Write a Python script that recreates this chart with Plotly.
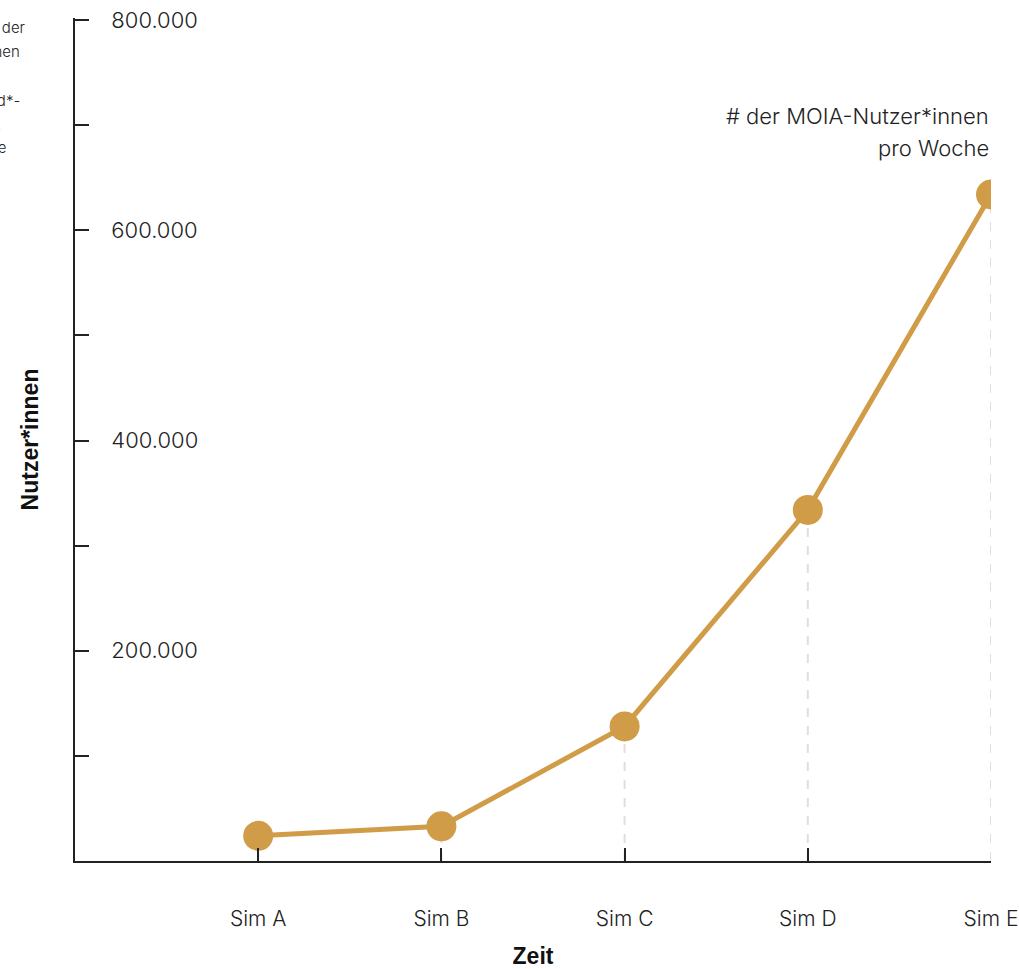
import plotly.graph_objects as go

# Weekly MOIA users per simulation run
categories = ["Sim A", "Sim B", "Sim C", "Sim D", "Sim E"]
users = [24000, 33000, 128000, 334000, 634000]

y_tick_values = [0, 100000, 200000, 300000, 400000, 500000, 600000, 700000, 800000]
y_tick_labels = ["", "", "200.000", "", "400.000", "", "600.000", "", "800.000"]

# side note lines, running off the left edge of the page
note_lines = ["Anzahl der", "Nutzer*innen", "Kund*-", ".", "Woche"]

GOLD = "#D09C48"
INK = "#222222"
DROP = "#E3DFD8"
FONT = "Inter"

fig = go.Figure()

# dashed drop lines from each point to the baseline
for i, v in enumerate(users):
    fig.add_trace(go.Scatter(
        x=[i, i], y=[0, v], mode="lines",
        line=dict(color=DROP, width=2, dash="dash"),
        hoverinfo="skip", showlegend=False,
    ))

fig.add_trace(go.Scatter(
    x=list(range(len(categories))), y=users, mode="lines+markers",
    line=dict(color=GOLD, width=5),
    marker=dict(color=GOLD, size=30),
    showlegend=False,
))

# series label next to the last point
fig.add_annotation(x=len(categories) - 1, y=users[-1], xref="x", yref="y",
                   text="# der MOIA-Nutzer*innen", showarrow=False,
                   xanchor="right", yanchor="middle", yshift=79,
                   font=dict(family=FONT, size=22, color=INK, weight=300))
fig.add_annotation(x=len(categories) - 1, y=users[-1], xref="x", yref="y",
                   text="pro Woche", showarrow=False,
                   xanchor="right", yanchor="middle", yshift=47,
                   font=dict(family=FONT, size=22, color=INK, weight=300))

# page geometry (px)
plot_left, plot_width, plot_top, plot_height = 75, 916, 18, 843
y_top = 801900

# side note: right edge (px) and vertical centre (px) of each line
note_right = [28, 22, 22, 3, 9]
note_mid = [28, 52, 100, 124, 148]
for txt, rx, my in zip(note_lines, note_right, note_mid):
    fig.add_annotation(x=(rx - plot_left) / plot_width,
                       y=1 - (my - plot_top) / plot_height,
                       xref="paper", yref="paper", text=txt, showarrow=False,
                       xanchor="right", yanchor="middle",
                       font=dict(family=FONT, size=15, color=INK, weight=300))

fig.update_layout(
    width=1019, height=969,
    margin=dict(l=plot_left, r=1019 - plot_left - plot_width, t=plot_top,
                b=969 - plot_top - plot_height),
    paper_bgcolor="white", plot_bgcolor="white",
    font=dict(family=FONT, color=INK),
    xaxis=dict(
        range=[-1, 4], tickmode="array",
        tickvals=list(range(len(categories))), ticktext=categories,
        showgrid=False, zeroline=False, automargin=False,
        showline=True, linecolor=INK, linewidth=1.5,
        ticks="inside", ticklen=13, tickwidth=1.5, tickcolor=INK,
        tickfont=dict(family=FONT, size=21, color=INK, weight=300),
        ticklabelstandoff=38,
        title=dict(text="<b>Zeit</b>", font=dict(family="Liberation Sans", size=23, color="#111"),
                   standoff=36),
    ),
    yaxis=dict(
        range=[0, y_top], tickmode="array",
        tickvals=y_tick_values, ticktext=y_tick_labels,
        showgrid=False, zeroline=False, automargin=False,
        showline=True, linecolor=INK, linewidth=1.5,
        ticks="inside", ticklen=14, tickwidth=1.5, tickcolor=INK,
        ticklabelposition="inside", ticklabeloverflow="allow",
        ticklabelstandoff=24,
        tickfont=dict(family=FONT, size=22, color=INK, weight=300),
        title=dict(text="<b>Nutzer*innen</b>", font=dict(family="Liberation Sans", size=23, color="#111"),
                   standoff=66),
    ),
)

fig.write_html("out.html")
